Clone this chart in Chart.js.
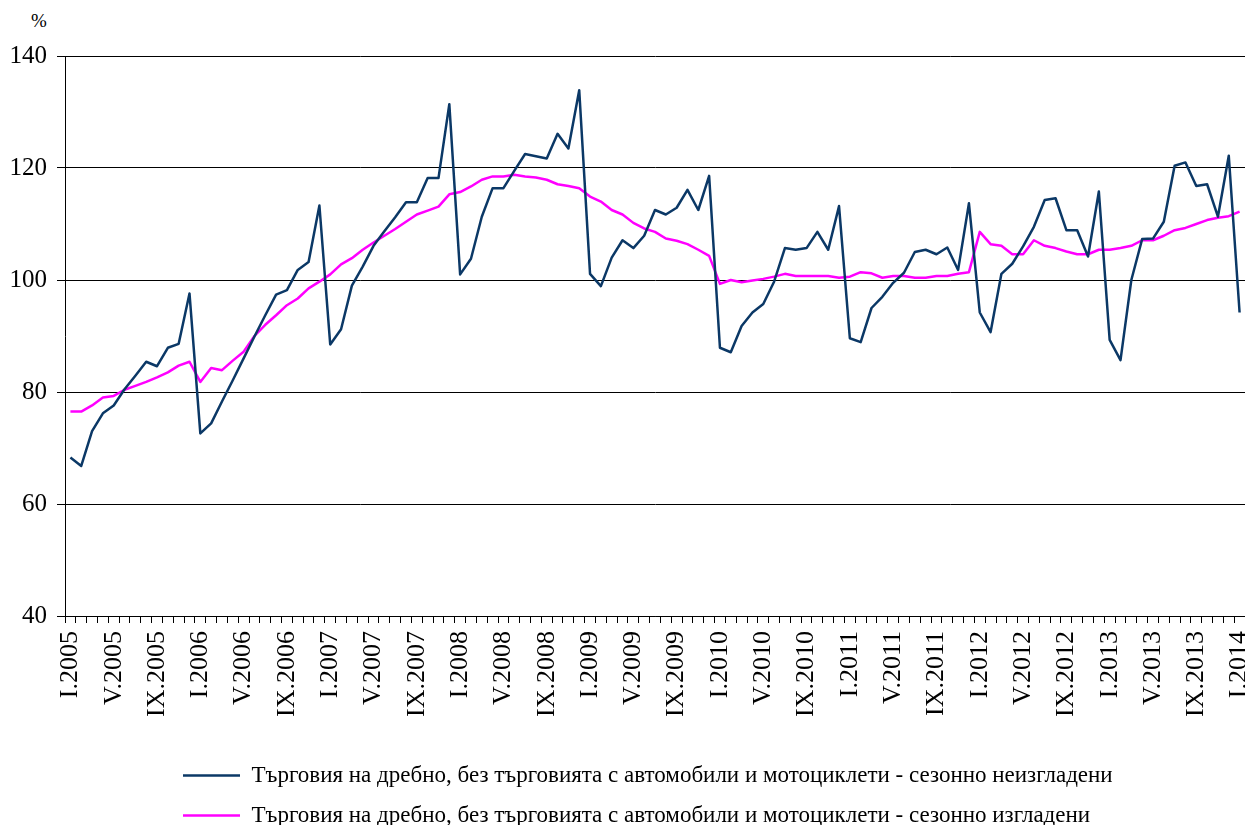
<!DOCTYPE html>
<html>
<head>
<meta charset="utf-8">
<script src="https://cdn.jsdelivr.net/npm/chart.js@4.4.0/dist/chart.umd.min.js"></script>
<style>
  html, body { margin: 0; padding: 0; background: #fff; overflow: hidden; }
  #wrap { position: relative; width: 1245px; height: 825px; overflow: hidden; }
  #pct { position: absolute; left: 31px; top: 10px; font: 19px 'Liberation Serif', serif; color: #000; }
  canvas { position: absolute; left: 0; top: 0; }
</style>
</head>
<body>
<div id="wrap">
  <span id="pct">%</span>
  <canvas id="chart" width="1245" height="837"></canvas>
</div>
<script>
// months I.2005 .. I.2014
const romanMonths = ['I', 'II', 'III', 'IV', 'V', 'VI', 'VII', 'VIII', 'IX', 'X', 'XI', 'XII'];
const years = [2005, 2006, 2007, 2008, 2009, 2010, 2011, 2012, 2013, 2014];

const labels = [];
years.forEach(y => {
  romanMonths.forEach(m => {
    if (y < 2014 || m === 'I') labels.push(m + '.' + y);
  });
});

// retail trade excl. motor vehicles, index (%)
const notAdjusted = [
  68.3, 66.8, 73.0, 76.2, 77.6, 80.5, 82.9, 85.4, 84.6, 87.9, 88.6, 97.6,
  72.6, 74.4, 78.3, 82.1, 86.0, 89.9, 93.7, 97.4, 98.2, 101.8, 103.2, 113.3,
  88.5, 91.2, 99.0, 102.4, 106.1, 108.7, 111.2, 113.9, 113.9, 118.2, 118.2, 131.4,
  101.0, 103.8, 111.3, 116.4, 116.4, 119.5, 122.5, 122.1, 121.7, 126.1, 123.5, 133.9,
  101.1, 98.9, 104.0, 107.1, 105.7, 107.9, 112.5, 111.7, 112.9, 116.1, 112.5, 118.6,
  87.9, 87.1, 91.8, 94.2, 95.7, 99.7, 105.7, 105.4, 105.7, 108.6, 105.4, 113.2,
  89.6, 88.9, 95.0, 97.0, 99.5, 101.3, 105.0, 105.4, 104.6, 105.8, 101.8, 113.7,
  94.2, 90.7, 101.1, 102.9, 106.0, 109.5, 114.3, 114.6, 108.9, 108.9, 104.2, 115.8,
  89.3, 85.7, 100.0, 107.3, 107.4, 110.4, 120.4, 121.0, 116.8, 117.1, 111.3, 122.2,
  94.2
];

const adjusted = [
  76.5, 76.5, 77.6, 79.0, 79.3, 80.4, 81.1, 81.8, 82.6, 83.5, 84.7, 85.4,
  81.8, 84.3, 83.9, 85.6, 87.2, 90.0, 92.0, 93.7, 95.5, 96.7, 98.5, 99.7,
  101.0, 102.8, 103.9, 105.4, 106.7, 107.9, 109.1, 110.4, 111.7, 112.4, 113.1, 115.3,
  115.7, 116.7, 117.9, 118.5, 118.5, 118.8, 118.5, 118.3, 117.9, 117.1, 116.8, 116.4,
  114.9, 114.0, 112.5, 111.7, 110.2, 109.2, 108.6, 107.4, 107.0, 106.4, 105.4, 104.3,
  99.3, 100.0, 99.6, 99.9, 100.2, 100.6, 101.1, 100.7, 100.7, 100.7, 100.7, 100.4,
  100.6, 101.4, 101.2, 100.4, 100.7, 100.7, 100.4, 100.4, 100.7, 100.7, 101.1, 101.4,
  108.6, 106.4, 106.1, 104.6, 104.6, 107.1, 106.1, 105.7, 105.1, 104.6, 104.6, 105.4,
  105.4, 105.7, 106.1, 107.1, 107.1, 107.9, 108.9, 109.3, 110.0, 110.7, 111.1, 111.4,
  112.2
];

const yTicks = [40, 60, 80, 100, 120, 140];

const seriesNames = [
  'Търговия на дребно, без търговията с автомобили и мотоциклети - сезонно неизгладени',
  'Търговия на дребно, без търговията с автомобили и мотоциклети - сезонно изгладени'
];

const serif = 'Liberation Serif';

// legend rows start at the same x, like the original
const legendShift = {
  id: 'legendShift',
  afterLayout(chart) {
    chart.legend.left = 166;
  }
};

new Chart(document.getElementById('chart'), {
  type: 'line',
  data: {
    labels: labels,
    datasets: [
      {
        label: seriesNames[0],
        data: notAdjusted,
        borderColor: '#0b3866',
        backgroundColor: '#0b3866',
        borderWidth: 2.5,
        borderJoinStyle: 'round',
        pointRadius: 0,
        tension: 0
      },
      {
        label: seriesNames[1],
        data: adjusted,
        borderColor: '#ff00ff',
        backgroundColor: '#ff00ff',
        borderWidth: 2.5,
        borderJoinStyle: 'round',
        pointRadius: 0,
        tension: 0
      }
    ]
  },
  plugins: [legendShift],
  options: {
    responsive: false,
    animation: false,
    devicePixelRatio: 1,
    layout: { padding: { top: 56, right: 0, bottom: 0, left: 0 } },
    plugins: {
      tooltip: { enabled: false },
      legend: {
        position: 'bottom',
        align: 'start',
        labels: {
          usePointStyle: true,
          pointStyle: 'line',
          pointStyleWidth: 57,
          padding: 17,
          color: '#000',
          font: { family: serif, size: 23 }
        }
      }
    },
    scales: {
      x: {
        offset: true,
        grid: {
          offset: true,
          drawOnChartArea: false,
          drawTicks: true,
          tickLength: 7,
          color: '#000'
        },
        border: { color: '#000', width: 1 },
        ticks: {
          autoSkip: false,
          minRotation: 90,
          maxRotation: 90,
          padding: 8,
          color: '#000',
          font: { family: serif, size: 26 },
          callback: function (value, index) {
            return index % 4 === 0 ? labels[index] : '';
          }
        },
        afterFit: function (scale) {
          scale.paddingLeft = 0;
          scale.paddingRight = 0;
          scale.height = 131;
        }
      },
      y: {
        min: 40,
        max: 140,
        afterBuildTicks: function (scale) {
          scale.ticks = yTicks.map(v => ({ value: v }));
        },
        grid: { color: '#000', tickLength: 8 },
        border: { color: '#000', width: 1 },
        ticks: {
          padding: 10,
          color: '#000',
          font: { family: serif, size: 25 }
        },
        afterFit: function (scale) {
          scale.width = 65;
        }
      }
    }
  }
});
</script>
</body>
</html>
